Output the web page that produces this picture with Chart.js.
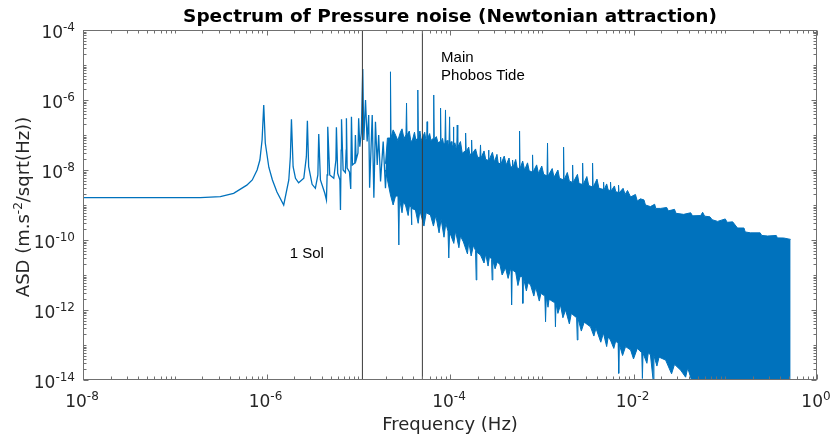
<!DOCTYPE html>
<html lang="en">
<head>
    <meta charset="UTF-8">
    <title>Spectrum of Pressure noise (Newtonian attraction)</title>
    <style>
        body { margin: 0; background: #ffffff; }
        #grafico { display: block; }
    </style>
</head>
<body>
    <canvas id="grafico" width="836" height="438"></canvas>
<script src="https://cdn.jsdelivr.net/npm/chart.js"></script>
<script>

    // clean low-frequency part of the spectrum (Hz, m.s^-2/sqrt(Hz))
    const freqLine = [1e-8, 1.9e-7, 3.14e-7, 4.38e-7, 6.1e-7, 7.0e-7, 7.9e-7, 8.47e-7, 8.95e-7, 9.33e-7,
        9.7e-7, 1.06e-6, 1.16e-6, 1.3e-6, 1.54e-6, 1.75e-6, 1.82e-6, 1.87e-6, 1.95e-6, 2.07e-6,
        2.24e-6, 2.55e-6, 2.72e-6, 2.79e-6, 2.88e-6, 3.14e-6, 3.41e-6, 3.63e-6, 3.71e-6, 3.87e-6,
        4.32e-6, 4.5e-6, 4.58e-6, 4.65e-6, 4.89e-6, 5.41e-6, 5.71e-6, 5.78e-6, 5.97e-6, 6.31e-6,
        6.4e-6, 6.51e-6, 6.57e-6, 6.84e-6, 7.24e-6, 7.38e-6, 7.43e-6, 7.57e-6, 8.02e-6, 8.28e-6,
        8.43e-6, 8.65e-6, 9.17e-6, 9.31e-6, 9.48e-6, 9.93e-6, 1.01e-5, 1.04e-5, 1.08e-5, 1.12e-5,
        1.15e-5, 1.20e-5, 1.25e-5, 1.30e-5, 1.33e-5, 1.42e-5, 1.48e-5, 1.54e-5, 1.61e-5, 1.67e-5,
        1.75e-5, 1.87e-5, 1.98e-5, 2.08e-5];
    const asdLine = [1.62e-9, 1.62e-9, 1.73e-9, 2.15e-9, 3.7e-9, 5.2e-9, 1.0e-8, 1.93e-8, 7.2e-8, 7.2e-7,
        5.9e-8, 1.2e-8, 5.2e-9, 2.35e-9, 1.0e-9, 5.2e-9, 2.4e-8, 2.8e-7, 1.24e-8, 5.8e-9,
        4.3e-9, 5.8e-9, 2.4e-8, 2.56e-7, 1.24e-8, 3.9e-9, 3.0e-9, 7.2e-9, 1.07e-7, 5.2e-9,
        2.16e-9, 1.39e-9, 7.2e-9, 1.73e-7, 7.2e-9, 5.8e-9, 1.93e-8, 1.66e-7, 8.05e-9, 5.2e-9,
        7.2e-10, 3.7e-8, 2.8e-7, 1.0e-8, 8.4e-9, 3.7e-8, 3.0e-7, 1.14e-8, 8.8e-9, 2.86e-9,
        3.33e-7, 1.39e-8, 1.58e-8, 1.0e-7, 1.93e-8, 3.06e-8, 3.0e-7, 4.6e-8, 1.14e-7, 7.7e-6,
        7.2e-8, 1.0e-6, 6.5e-8, 3.7e-7, 3.1e-9, 3.7e-7, 1.6e-9, 2.4e-7, 1.4e-8, 1.0e-7,
        4.7e-9, 6.5e-8, 3.0e-9, 3.7e-8];

    // upper edge of the dense noise band
    const freqTop = [1.98e-5, 2.08e-5, 2.22e-5, 2.245e-5, 2.28e-5, 2.4e-5, 2.55e-5, 2.7e-5, 2.88e-5, 3.0e-5,
        3.15e-5, 3.31e-5, 3.36e-5, 3.40e-5, 3.6e-5, 3.75e-5, 3.9e-5, 4.1e-5, 4.25e-5, 4.40e-5,
        4.46e-5, 4.52e-5, 4.7e-5, 4.85e-5, 5.0e-5, 5.3e-5, 5.45e-5, 5.57e-5, 5.63e-5, 5.70e-5,
        6.0e-5, 6.2e-5, 6.57e-5, 6.65e-5, 6.73e-5, 7.1e-5, 7.4e-5, 7.79e-5, 7.89e-5, 7.99e-5,
        8.3e-5, 8.5e-5, 8.8e-5, 8.93e-5, 9.05e-5, 9.3e-5, 9.5e-5, 9.75e-5, 9.9e-5, 1.0e-4,
        1.03e-4, 1.05e-4, 1.08e-4, 1.09e-4, 1.10e-4, 1.13e-4, 1.16e-4, 1.185e-4, 1.20e-4, 1.215e-4,
        1.3e-4, 1.36e-4, 1.46e-4, 1.48e-4, 1.50e-4, 1.6e-4, 1.65e-4, 1.70e-4, 1.72e-4, 1.74e-4,
        1.9e-4, 2.0e-4, 2.12e-4, 2.15e-4, 2.18e-4, 2.35e-4, 2.45e-4, 2.60e-4, 2.63e-4, 2.66e-4,
        2.9e-4, 3.05e-4, 3.25e-4, 3.35e-4, 3.52e-4, 3.56e-4, 3.60e-4, 3.9e-4, 4.1e-4, 4.4e-4,
        4.55e-4, 4.75e-4, 4.81e-4, 4.87e-4, 5.2e-4, 5.4e-4, 5.66e-4, 5.73e-4, 5.80e-4, 6.2e-4,
        6.5e-4, 7.0e-4, 7.3e-4, 7.84e-4, 7.94e-4, 8.04e-4, 8.8e-4, 9.2e-4, 1.0e-3, 1.05e-3,
        1.14e-3, 1.156e-3, 1.17e-3, 1.3e-3, 1.36e-3, 1.5e-3, 1.56e-3, 1.71e-3, 1.73e-3, 1.75e-3,
        1.9e-3, 2.0e-3, 2.14e-3, 2.17e-3, 2.20e-3, 2.45e-3, 2.55e-3, 2.76e-3, 2.79e-3, 2.83e-3,
        3.1e-3, 3.25e-3, 3.54e-3, 3.58e-3, 3.63e-3, 4.0e-3, 4.2e-3, 4.66e-3, 4.72e-3, 4.78e-3,
        5.1e-3, 5.3e-3, 5.55e-3, 5.62e-3, 5.69e-3, 6.2e-3, 6.4e-3, 6.79e-3, 6.87e-3, 6.96e-3,
        7.7e-3, 8.1e-3, 8.6e-3, 9.3e-3, 1.05e-2, 1.1e-2, 1.19e-2, 1.3e-2, 1.35e-2, 1.53e-2,
        1.7e-2, 1.75e-2, 1.98e-2, 2.3e-2, 2.4e-2, 2.8e-2, 2.9e-2, 3.52e-2, 4.2e-2, 4.4e-2,
        5.4e-2, 5.67e-2, 5.96e-2, 6.8e-2, 7.2e-2, 8.26e-2, 0.1, 0.105, 0.1205, 0.136,
        0.16, 0.165, 0.189, 0.24, 0.25, 0.29, 0.36, 0.37, 0.434, 0.516];
    const asdTop = [1.5e-8, 8.2e-8, 8.2e-8, 6.4e-6, 8.5e-8, 1.4e-7, 1.0e-7, 7.0e-8, 1.2e-7, 1.5e-7,
        8.0e-8, 1.0e-7, 8.2e-7, 1.0e-7, 1.3e-7, 6.5e-8, 7.2e-8, 1.2e-7, 7.0e-8, 8.0e-8,
        1.93e-6, 8.0e-8, 1.3e-7, 7.0e-8, 8.2e-8, 1.2e-7, 7.5e-8, 8.0e-8, 2.4e-7, 8.0e-8,
        1.1e-7, 7.0e-8, 8.0e-8, 1.39e-6, 7.5e-8, 9.0e-8, 6.0e-8, 6.5e-8, 5.9e-7, 6.3e-8,
        8.0e-8, 5.5e-8, 6.0e-8, 5.2e-7, 5.8e-8, 7.0e-8, 5.0e-8, 5.5e-8, 3.3e-7, 5.4e-8,
        6.5e-8, 4.8e-8, 5.0e-8, 1.7e-7, 5.0e-8, 6.0e-8, 4.5e-8, 4.5e-8, 1.93e-7, 4.5e-8,
        6.5e-8, 3.0e-8, 3.5e-8, 1.14e-7, 3.4e-8, 4.5e-8, 2.6e-8, 3.0e-8, 7.2e-8, 2.9e-8,
        4.0e-8, 2.3e-8, 2.3e-8, 5.2e-8, 2.2e-8, 3.5e-8, 2.0e-8, 1.9e-8, 3.7e-8, 1.85e-8,
        3.2e-8, 1.7e-8, 2.8e-8, 1.6e-8, 1.5e-8, 2.35e-8, 1.5e-8, 2.5e-8, 1.4e-8, 2.2e-8,
        1.3e-8, 1.2e-8, 1.93e-8, 1.2e-8, 2.0e-8, 1.15e-8, 1.1e-8, 1.3e-7, 1.1e-8, 1.8e-8,
        1.0e-8, 1.6e-8, 9.5e-9, 8.8e-9, 2.7e-8, 8.7e-9, 1.4e-8, 8.0e-9, 1.3e-8, 7.5e-9,
        6.8e-9, 5.9e-8, 6.7e-9, 1.1e-8, 6.2e-9, 1.0e-8, 5.8e-9, 5.3e-9, 4.5e-8, 5.2e-9,
        8.5e-9, 4.8e-9, 4.5e-9, 1.39e-8, 4.4e-9, 7.5e-9, 4.1e-9, 3.9e-9, 1.58e-8, 3.8e-9,
        6.5e-9, 3.6e-9, 3.3e-9, 1.58e-8, 3.2e-9, 5.5e-9, 3.0e-9, 2.8e-9, 4.5e-9, 2.7e-9,
        4.0e-9, 2.7e-9, 2.6e-9, 4.5e-9, 2.5e-9, 3.5e-9, 2.4e-9, 2.3e-9, 3.7e-9, 2.2e-9,
        3.0e-9, 2.0e-9, 2.6e-9, 1.7e-9, 2.0e-9, 1.3e-9, 1.5e-9, 1.4e-9, 1.0e-9, 9.0e-10,
        1.05e-9, 8.0e-10, 8.0e-10, 8.5e-10, 6.8e-10, 7.5e-10, 5.8e-10, 5.4e-10, 6.0e-10, 4.9e-10,
        5.0e-10, 6.2e-10, 4.8e-10, 4.6e-10, 3.8e-10, 3.4e-10, 4.0e-10, 3.2e-10, 3.3e-10, 2.2e-10,
        2.2e-10, 1.7e-10, 1.6e-10, 1.6e-10, 1.35e-10, 1.3e-10, 1.35e-10, 1.15e-10, 1.14e-10, 1.04e-10];

    // lower edge of the dense noise band
    const freqBottom = [1.98e-5, 2.245e-5, 2.4e-5, 2.55e-5, 2.71e-5, 2.77e-5, 2.81e-5, 3.0e-5, 3.1e-5, 3.27e-5,
        3.5e-5, 3.6e-5, 3.76e-5, 3.8e-5, 3.85e-5, 4.2e-5, 4.5e-5, 4.7e-5, 5.2e-5, 5.5e-5,
        6.12e-5, 6.6e-5, 7.0e-5, 7.6e-5, 8.0e-5, 8.6e-5, 9.0e-5, 9.5e-5, 9.7e-5, 9.9e-5,
        1.1e-4, 1.15e-4, 1.25e-4, 1.3e-4, 1.40e-4, 1.55e-4, 1.6e-4, 1.7e-4, 1.8e-4, 1.90e-4,
        1.93e-4, 1.96e-4, 2.15e-4, 2.35e-4, 2.45e-4, 2.6e-4, 2.7e-4, 2.84e-4, 2.88e-4, 2.93e-4,
        3.1e-4, 3.27e-4, 3.5e-4, 3.7e-4, 4.03e-4, 4.3e-4, 4.5e-4, 4.63e-4, 4.69e-4, 4.76e-4,
        5.2e-4, 5.5e-4, 5.8e-4, 6.13e-4, 6.22e-4, 6.31e-4, 6.8e-4, 7.1e-4, 7.55e-4, 8.2e-4,
        8.6e-4, 9.4e-4, 9.8e-4, 1.08e-3, 1.10e-3, 1.12e-3, 1.17e-3, 1.2e-3, 1.25e-3, 1.39e-3,
        1.41e-3, 1.43e-3, 1.5e-3, 1.6e-3, 1.7e-3, 1.82e-3, 2.0e-3, 2.1e-3, 2.40e-3, 2.44e-3,
        2.48e-3, 2.7e-3, 2.9e-3, 3.4e-3, 3.7e-3, 3.9e-3, 4.4e-3, 4.7e-3, 5.1e-3, 5.3e-3,
        5.6e-3, 6.1e-3, 6.4e-3, 6.8e-3, 6.9e-3, 7.0e-3, 7.6e-3, 8.2e-3, 9.3e-3, 1.0e-2,
        1.1e-2, 1.23e-2, 1.25e-2, 1.27e-2, 1.4e-2, 1.45e-2, 1.53e-2, 1.65e-2, 1.67e-2, 1.8e-2,
        1.9e-2, 2.24e-2, 2.6e-2, 2.8e-2, 3.27e-2, 3.7e-2, 3.9e-2, 4.4e-2, 0.516];
    const asdBottom = [1.0e-8, 1.93e-9, 1.0e-9, 1.8e-9, 1.8e-9, 7.2e-11, 1.6e-9, 6.0e-10, 1.2e-9, 1.0e-9,
        5.0e-10, 9.0e-10, 9.0e-10, 2.7e-10, 8.0e-10, 7.2e-10, 3.0e-10, 7.0e-10, 2.5e-10, 6.0e-10,
        5.2e-10, 2.5e-10, 5.0e-10, 1.6e-10, 4.0e-10, 1.2e-10, 3.0e-10, 1.8e-10, 3.06e-11, 1.7e-10,
        8.0e-11, 1.8e-10, 6.0e-11, 1.3e-10, 8.8e-11, 4.0e-11, 9.0e-11, 3.5e-11, 7.0e-11, 5.0e-11,
        7.2e-12, 4.5e-11, 3.7e-11, 2.2e-11, 4.0e-11, 1.8e-11, 3.5e-11, 2.8e-11, 7.2e-12, 2.6e-11,
        1.5e-11, 2.35e-11, 2.0e-11, 1.0e-11, 1.6e-11, 8.0e-12, 1.3e-11, 1.5e-11, 1.39e-12, 1.4e-11,
        1.2e-11, 5.0e-12, 9.0e-12, 9.0e-12, 1.55e-12, 8.5e-12, 3.5e-12, 6.0e-12, 5.2e-12, 2.5e-12,
        4.5e-12, 1.8e-12, 3.0e-12, 2.5e-12, 4.6e-13, 2.4e-12, 1.2e-12, 2.0e-12, 1.9e-12, 1.6e-12,
        3.3e-13, 1.5e-12, 8.0e-13, 1.4e-12, 6.0e-13, 1.0e-12, 4.0e-13, 8.0e-13, 6.0e-13, 1.39e-13,
        5.8e-13, 2.5e-13, 4.5e-13, 3.3e-13, 1.8e-13, 3.0e-13, 1.2e-13, 2.2e-13, 9.0e-14, 1.7e-13,
        1.39e-13, 8.0e-14, 1.3e-13, 1.1e-13, 1.55e-14, 1.05e-13, 5.0e-14, 9.0e-14, 7.2e-14, 4.0e-14,
        8.0e-14, 6.0e-14, 1.1e-14, 5.8e-14, 3.0e-14, 6.0e-14, 5.2e-14, 8.0e-15, 5.0e-14, 2.5e-14,
        4.5e-14, 3.7e-14, 1.5e-14, 2.8e-14, 1.9e-14, 1.2e-14, 2.2e-14, 8.0e-15, 8.0e-15];

    // vertical reference lines: 1 Sol and main Phobos tide
    const markerFreqs = [1.11e-5, 5.0e-5];

    // text annotations, anchored in data units (left edge, middle)
    const noteTexts = ['1 Sol', 'Main', 'Phobos Tide'];
    const noteFreqs = [1.79e-6, 8.0e-5, 8.0e-5];
    const noteAsds = [3.9e-11, 1.64e-5, 4.9e-6];

    // axis ranges and labelled decades
    const xRange = [1e-8, 1];
    const yRange = [1e-14, 1e-4];
    const xTickExps = [-8, -6, -4, -2, 0];
    const yTickExps = [-4, -6, -8, -10, -12, -14];

    const AZUL = '#0072BD';

    const pares = (fs, vs) => fs.map((f, i) => ({ x: f, y: vs[i] }));

    const decoracao = {
        id: 'decoracao',
        afterDraw(chart) {
            const ctx = chart.ctx;
            const a = chart.chartArea;
            const sx = chart.scales.x;
            const sy = chart.scales.y;

            ctx.save();

            // annotations
            ctx.fillStyle = '#000000';
            ctx.font = "15px 'Liberation Sans', Arial, sans-serif";
            ctx.textAlign = 'left';
            ctx.textBaseline = 'middle';
            noteTexts.forEach((t, i) => {
                ctx.fillText(t, sx.getPixelForValue(noteFreqs[i]), sy.getPixelForValue(noteAsds[i]));
            });

            // box and inward ticks
            ctx.strokeStyle = '#707070';
            ctx.lineWidth = 1;
            const L = Math.round(a.left) + 0.5, R = Math.round(a.right) - 0.5;
            const T = Math.round(a.top) + 0.5, B = Math.round(a.bottom) - 0.5;
            ctx.strokeRect(L, T, R - L, B - T);

            ctx.beginPath();
            for (let k = Math.log10(xRange[0]); k <= Math.log10(xRange[1]); k++) {
                for (let m = 1; m <= 9; m++) {
                    const v = m * Math.pow(10, k);
                    if (v > xRange[1] * 1.0001) break;
                    const px = Math.round(sx.getPixelForValue(v)) + 0.5;
                    const len = (m === 1 && xTickExps.includes(k)) ? 5 : 3;
                    ctx.moveTo(px, B); ctx.lineTo(px, B - len);
                    ctx.moveTo(px, T); ctx.lineTo(px, T + len);
                }
            }
            for (let k = Math.log10(yRange[0]); k <= Math.log10(yRange[1]); k++) {
                for (let m = 1; m <= 9; m++) {
                    const v = m * Math.pow(10, k);
                    if (v > yRange[1] * 1.0001) break;
                    const py = Math.round(sy.getPixelForValue(v)) + 0.5;
                    const len = (m === 1 && yTickExps.includes(k)) ? 5 : 3;
                    ctx.moveTo(L, py); ctx.lineTo(L + len, py);
                    ctx.moveTo(R, py); ctx.lineTo(R - len, py);
                }
            }
            ctx.stroke();

            // tick labels 10^n
            const fBase = "17px 'DejaVu Sans', sans-serif";
            const fExp = "12px 'DejaVu Sans', sans-serif";
            ctx.fillStyle = '#262626';
            ctx.textAlign = 'left';
            ctx.textBaseline = 'alphabetic';

            yTickExps.forEach(e => {
                const py = sy.getPixelForValue(Math.pow(10, e));
                ctx.font = fExp;
                const ex = String(e);
                const we = ctx.measureText(ex).width;
                ctx.font = fBase;
                const wb = ctx.measureText('10').width;
                const right = a.left - 8;
                ctx.fillText('10', right - we - wb, py + 8.3);
                ctx.font = fExp;
                ctx.fillText(ex, right - we, py + 1);
            });

            xTickExps.forEach(e => {
                const px = sx.getPixelForValue(Math.pow(10, e));
                ctx.font = fExp;
                const ex = String(e);
                const we = ctx.measureText(ex).width;
                ctx.font = fBase;
                const wb = ctx.measureText('10').width;
                const left = px - 1 - (wb + we) / 2;
                ctx.fillText('10', left, a.bottom + 27.3);
                ctx.font = fExp;
                ctx.fillText(ex, left + wb, a.bottom + 20);
            });

            // axis titles
            const cx = (a.left + a.right) / 2;
            ctx.font = "18px 'DejaVu Sans', sans-serif";
            ctx.textAlign = 'center';
            ctx.fillText('Frequency (Hz)', cx, 430);

            ctx.save();
            ctx.translate(28.5, 207);
            ctx.rotate(-Math.PI / 2);
            const p1 = 'ASD (m.s', p2 = '-2', p3 = '/sqrt(Hz))';
            ctx.font = "18px 'DejaVu Sans', sans-serif";
            const w1 = ctx.measureText(p1).width, w3 = ctx.measureText(p3).width;
            ctx.font = "12px 'DejaVu Sans', sans-serif";
            const w2 = ctx.measureText(p2).width;
            let x0 = -(w1 + w2 + w3) / 2;
            ctx.textAlign = 'left';
            ctx.font = "18px 'DejaVu Sans', sans-serif";
            ctx.fillText(p1, x0, 0);
            ctx.font = "12px 'DejaVu Sans', sans-serif";
            ctx.fillText(p2, x0 + w1, -7);
            ctx.font = "18px 'DejaVu Sans', sans-serif";
            ctx.fillText(p3, x0 + w1 + w2, 0);
            ctx.restore();

            // title
            ctx.font = "bold 18.5px 'DejaVu Sans', sans-serif";
            ctx.fillStyle = '#000000';
            ctx.textAlign = 'center';
            ctx.fillText('Spectrum of Pressure noise (Newtonian attraction)', cx, 22);

            ctx.restore();
        }
    };

    const ctx = document.getElementById('grafico');
    new Chart(ctx, {
        type: 'line',
        data: {
            datasets: [
                ...markerFreqs.map(f => ({
                    label: 'marker',
                    data: [{ x: f, y: yRange[0] }, { x: f, y: yRange[1] }],
                    borderColor: '#3a3a3a',
                    borderWidth: 1,
                    fill: false
                })),
                {
                    label: 'ASD',
                    data: pares(freqLine, asdLine),
                    borderColor: AZUL,
                    borderWidth: 1.3,
                    fill: false
                },
                {
                    label: 'topo',
                    data: pares(freqTop, asdTop),
                    borderColor: AZUL,
                    backgroundColor: AZUL,
                    borderWidth: 1,
                    fill: '+1'
                },
                {
                    label: 'base',
                    data: pares(freqBottom, asdBottom),
                    borderColor: AZUL,
                    borderWidth: 1,
                    fill: false
                }
            ]
        },
        options: {
            responsive: false,
            animation: false,
            layout: { padding: { left: 83, right: 19, top: 30, bottom: 58 } },
            elements: {
                point: { radius: 0, hoverRadius: 0 },
                line: { tension: 0 }
            },
            scales: {
                x: { type: 'logarithmic', min: xRange[0], max: xRange[1], display: false },
                y: { type: 'logarithmic', min: yRange[0], max: yRange[1], display: false }
            },
            plugins: {
                legend: { display: false },
                tooltip: { enabled: false }
            }
        },
        plugins: [decoracao]
    });
</script>
</body>
</html>
